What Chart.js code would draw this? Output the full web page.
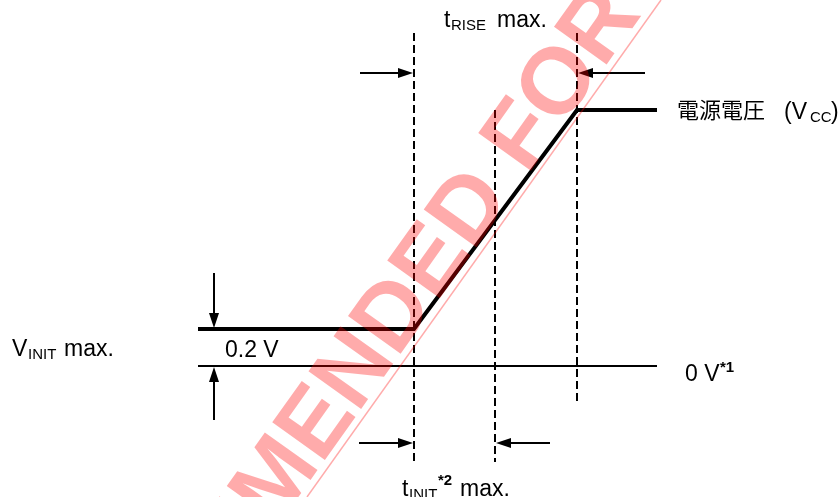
<!DOCTYPE html>
<html>
<head>
<meta charset="utf-8">
<script src="https://cdn.jsdelivr.net/npm/chart.js@4.4.1/dist/chart.umd.min.js"></script>
<style>
  html, body { margin: 0; padding: 0; background: #fff; }
  #wrap { width: 840px; height: 497px; position: relative; }
</style>
</head>
<body>
<div id="wrap"><canvas id="myChart"></canvas></div>
<script>
// power-on timing diagram (schematic: x = time, y = volts)
const curveTimes = [198, 414, 577, 657];
const curveVolts = [0.2, 0.2, 1.384, 1.384];
const groundTimes = [198, 657];
const groundVolts = [0, 0];
const markerTimes = [414, 495, 577];
const markerTop = [1.8, 1.384, 1.8];
const markerBottom = [-0.519, -0.519, -0.211];
const vinitMax = 0.2;
const vinitArrowT = 214;

const F = '23px "Liberation Sans", Arial, sans-serif';
const S = '15px "Liberation Sans", Arial, sans-serif';
const B = 'bold 15px "Liberation Sans", Arial, sans-serif';
const CJK = '22px "Noto Sans CJK JP", sans-serif';

function pts(xs, ys) {
  return xs.map((x, i) => ({ x: x, y: ys[i] }));
}

const datasets = [
  {
    data: pts(curveTimes, curveVolts),
    borderColor: "#000",
    borderWidth: 4,
    borderJoinStyle: "miter",
  },
  {
    data: pts(groundTimes, groundVolts),
    borderColor: "#000",
    borderWidth: 2,
  },
];
markerTimes.forEach((t, i) => {
  datasets.push({
    data: pts([t, t], [markerTop[i], markerBottom[i]]),
    borderColor: "#000",
    borderWidth: 2,
    borderDash: [8, 4],
  });
});

function arrow(ctx, x1, y1, x2, y2) {
  const a = Math.atan2(y2 - y1, x2 - x1);
  const hl = 15, hw = 5;
  ctx.beginPath();
  ctx.moveTo(x1, y1);
  ctx.lineTo(x2 - hl * Math.cos(a), y2 - hl * Math.sin(a));
  ctx.lineWidth = 2;
  ctx.strokeStyle = "#000";
  ctx.stroke();
  ctx.beginPath();
  ctx.moveTo(x2, y2);
  ctx.lineTo(x2 - hl * Math.cos(a) + hw * Math.sin(a), y2 - hl * Math.sin(a) - hw * Math.cos(a));
  ctx.lineTo(x2 - hl * Math.cos(a) - hw * Math.sin(a), y2 - hl * Math.sin(a) + hw * Math.cos(a));
  ctx.closePath();
  ctx.fillStyle = "#000";
  ctx.fill();
}

function txt(ctx, s, font, x, y) {
  ctx.font = font;
  ctx.fillText(s, x, y);
}

const annotations = {
  id: "annotations",
  afterDatasetsDraw(chart) {
    const ctx = chart.ctx;
    const xs = chart.scales.x, ys = chart.scales.y;
    const X = (v) => xs.getPixelForValue(v);
    const Y = (v) => ys.getPixelForValue(v);
    ctx.save();

    // V_INIT arrows
    const ax = X(vinitArrowT);
    arrow(ctx, ax, Y(vinitMax) - 56, ax, Y(vinitMax) - 1);
    arrow(ctx, ax, Y(0) + 54, ax, Y(0) + 1);

    // t_RISE arrows
    const yTop = 73;
    arrow(ctx, 360, yTop, X(markerTimes[0]) - 1, yTop);
    arrow(ctx, 645, yTop, X(markerTimes[2]) + 1, yTop);

    // t_INIT arrows
    const yBot = 443;
    arrow(ctx, 359, yBot, X(markerTimes[0]) - 1, yBot);
    arrow(ctx, 550, yBot, X(markerTimes[1]) + 1, yBot);

    ctx.fillStyle = "#000";
    ctx.textAlign = "left";
    ctx.textBaseline = "alphabetic";

    txt(ctx, "t", F, 444, 27);
    txt(ctx, "RISE", S, 451, 30);
    txt(ctx, "max.", F, 497, 27);

    txt(ctx, "電源電圧", CJK, 677, 118);
    txt(ctx, "(V", F, 784, 119);
    txt(ctx, "CC", S, 810, 122);
    txt(ctx, ")", F, 831, 119);

    txt(ctx, "V", F, 12, 356);
    txt(ctx, "INIT", S, 28, 359);
    txt(ctx, "max.", F, 64, 356);

    txt(ctx, "0.2 V", F, 225, Y(0) - 9);

    txt(ctx, "0 V", F, 685, 381);
    txt(ctx, "*1", B, 720, 372);

    txt(ctx, "t", F, 402, 496);
    txt(ctx, "INIT", S, 409, 499);
    txt(ctx, "*2", B, 438, 485);
    txt(ctx, "max.", F, 460, 496);
    ctx.restore();
  },
  afterDraw(chart) {
    // translucent red watermark on top
    const ctx = chart.ctx;
    ctx.save();
    const x0 = 307, y0 = 497, x1 = 661, y1 = 0;
    const len = Math.hypot(x1 - x0, y1 - y0);
    const ux = (x1 - x0) / len, uy = (y1 - y0) / len;
    const nx = uy, ny = -ux;
    ctx.strokeStyle = "rgba(255,0,0,0.33)";
    ctx.lineWidth = 1.5;
    ctx.beginPath();
    ctx.moveTo(x0, y0);
    ctx.lineTo(x1, y1);
    ctx.stroke();

    ctx.font = 'bold 94px "Liberation Sans", Arial, sans-serif';
    const pre = ctx.measureText("NOT RECOM").width;
    const s = -44, off = 7;
    const ox = x0 + ux * (s - pre) + nx * off;
    const oy = y0 + uy * (s - pre) + ny * off;
    ctx.translate(ox, oy);
    ctx.rotate(Math.atan2(uy, ux));
    ctx.fillStyle = "rgba(255,0,0,0.33)";
    ctx.textAlign = "left";
    ctx.textBaseline = "alphabetic";
    ctx.fillText("NOT RECOMMENDED FOR NEW DESIGN", 0, 0);
    ctx.restore();
  },
};

new Chart(document.getElementById("myChart"), {
  type: "line",
  data: { datasets: datasets },
  options: {
    responsive: true,
    maintainAspectRatio: false,
    animation: false,
    devicePixelRatio: 1,
    layout: { padding: 0 },
    elements: { point: { radius: 0 }, line: { tension: 0 } },
    plugins: { legend: { display: false }, tooltip: { enabled: false } },
    scales: {
      x: { type: "linear", min: 0, max: 840, display: false },
      y: { type: "linear", min: -0.7081, max: 1.9784, display: false },
    },
  },
  plugins: [annotations],
});
</script>
</body>
</html>
